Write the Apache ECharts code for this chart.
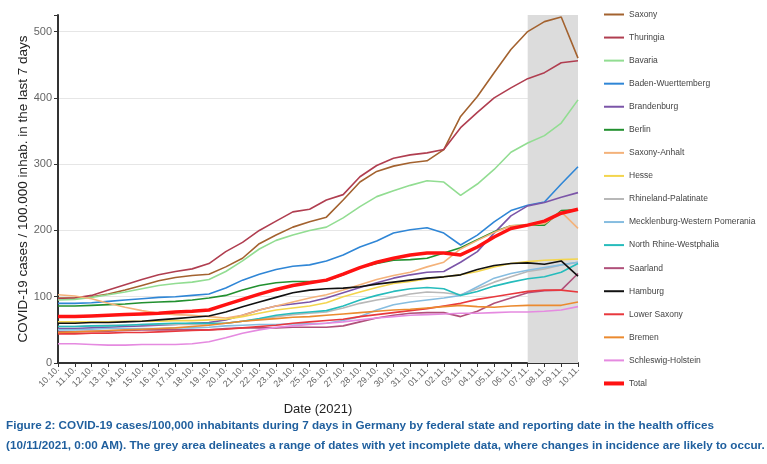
<!DOCTYPE html>
<html>
<head>
<meta charset="utf-8">
<script src="https://cdn.jsdelivr.net/npm/echarts@6/dist/echarts.min.js"></script>
<style>
  html, body { margin: 0; padding: 0; background: #ffffff; }
  #chart { width: 767px; height: 464px; }
</style>
</head>
<body>
<div id="chart"></div>
<script>
// dates 10.10. - 10.11.2021
const dates = ['10.10.', '11.10.', '12.10.', '13.10.', '14.10.', '15.10.', '16.10.', '17.10.', '18.10.', '19.10.',
  '20.10.', '21.10.', '22.10.', '23.10.', '24.10.', '25.10.', '26.10.', '27.10.', '28.10.', '29.10.', '30.10.',
  '31.10.', '01.11.', '02.11.', '03.11.', '04.11.', '05.11.', '06.11.', '07.11.', '08.11.', '09.11.', '10.11.'];

const yTicks = [0, 100, 200, 300, 400, 500];

const saxony = [98, 98, 100, 104, 110, 117, 124, 129, 132, 134, 145, 158, 180, 193, 205, 213, 220, 246, 273, 289, 297, 302, 305, 322, 372, 402, 438, 473, 500, 515, 522, 460];
const thuringia = [97, 98, 102, 110, 118, 126, 133, 138, 142, 150, 168, 182, 200, 214, 228, 232, 246, 254, 281, 298, 309, 314, 317, 322, 355, 378, 400, 415, 429, 438, 453, 456];
const bavaria = [95, 96, 99, 103, 107, 112, 117, 120, 122, 126, 138, 154, 172, 185, 193, 200, 205, 219, 236, 251, 260, 268, 275, 273, 253, 270, 292, 318, 332, 343, 362, 397];
const badenW = [90, 90, 91, 93, 95, 97, 99, 100, 102, 104, 113, 125, 134, 141, 146, 148, 154, 163, 175, 184, 196, 201, 204, 196, 178, 193, 213, 230, 238, 243, 270, 296];
const brandenburg = [52, 52, 53, 54, 55, 56, 57, 58, 60, 61, 65, 72, 80, 86, 89, 92, 98, 106, 114, 121, 128, 133, 137, 138, 152, 168, 196, 222, 237, 242, 250, 257];
const berlin = [86, 86, 87, 88, 89, 91, 92, 93, 95, 98, 102, 110, 117, 121, 123, 123, 124, 133, 144, 150, 155, 156, 158, 166, 174, 186, 198, 207, 208, 208, 230, 231];
const saxonyAnhalt = [103, 101, 97, 90, 84, 79, 75, 73, 72, 70, 68, 72, 80, 86, 92, 98, 103, 110, 118, 126, 132, 137, 145, 152, 172, 185, 197, 207, 208, 210, 228, 203];
const hesse = [62, 62, 62, 62, 63, 63, 63, 64, 64, 65, 66, 70, 75, 80, 83, 86, 91, 100, 107, 114, 120, 123, 127, 130, 133, 138, 145, 150, 153, 155, 156, 157];
const rhinelandP = [55, 55, 56, 57, 57, 58, 58, 58, 58, 58, 60, 63, 66, 70, 73, 75, 77, 83, 90, 95, 99, 104, 107, 106, 103, 112, 122, 130, 138, 142, 148, 152];
const mecklenburgWP = [50, 50, 51, 52, 52, 52, 52, 53, 53, 54, 56, 57, 58, 58, 59, 59, 60, 64, 70, 80, 88, 92, 95, 98, 102, 115, 128, 135, 140, 144, 148, 152];
const nrw = [55, 55, 56, 56, 57, 58, 59, 60, 60, 60, 60, 63, 67, 72, 75, 77, 79, 86, 95, 102, 108, 112, 114, 112, 102, 108, 116, 122, 127, 130, 137, 150];
const saarland = [47, 47, 48, 48, 49, 50, 50, 50, 50, 50, 52, 53, 53, 53, 54, 54, 54, 56, 62, 68, 72, 75, 76, 76, 70, 78, 90, 98, 106, 109, 110, 135];
const hamburg = [60, 60, 61, 61, 62, 63, 65, 67, 69, 71, 77, 85, 92, 99, 106, 110, 112, 113, 115, 119, 122, 125, 128, 130, 133, 141, 147, 150, 151, 149, 154, 131];
const lowerSaxony = [44, 44, 45, 45, 46, 46, 47, 48, 49, 50, 51, 53, 55, 57, 60, 62, 64, 66, 70, 73, 76, 79, 82, 86, 90, 96, 100, 104, 108, 110, 110, 107];
const bremen = [46, 47, 48, 49, 50, 51, 52, 53, 55, 57, 60, 63, 65, 67, 69, 70, 72, 74, 76, 78, 80, 81, 83, 85, 87, 85, 84, 86, 87, 87, 87, 92];
const schleswigH = [29, 29, 28, 27, 27, 28, 28, 28, 29, 32, 38, 45, 50, 54, 56, 58, 60, 62, 65, 68, 70, 72, 73, 74, 75, 75, 76, 77, 77, 78, 80, 85];
const total = [70, 70, 71, 72, 73, 74, 75, 77, 78, 80, 88, 96, 104, 111, 117, 121, 125, 134, 144, 152, 158, 163, 166, 166, 163, 175, 190, 203, 208, 214, 226, 232];

// incomplete data range
const greyStart = '07.11.';
const greyEnd = '10.11.';

const states = [
  { name: 'Saxony', data: saxony, color: '#a3622f' },
  { name: 'Thuringia', data: thuringia, color: '#b03e50' },
  { name: 'Bavaria', data: bavaria, color: '#92dd92' },
  { name: 'Baden-Wuerttemberg', data: badenW, color: '#2f86d6' },
  { name: 'Brandenburg', data: brandenburg, color: '#7b55a8' },
  { name: 'Berlin', data: berlin, color: '#22902f' },
  { name: 'Saxony-Anhalt', data: saxonyAnhalt, color: '#f4b27a' },
  { name: 'Hesse', data: hesse, color: '#f3d54e' },
  { name: 'Rhineland-Palatinate', data: rhinelandP, color: '#b8b8b8' },
  { name: 'Mecklenburg-Western Pomerania', data: mecklenburgWP, color: '#86bde0' },
  { name: 'North Rhine-Westphalia', data: nrw, color: '#26bcbc' },
  { name: 'Saarland', data: saarland, color: '#b0507a' },
  { name: 'Hamburg', data: hamburg, color: '#111111' },
  { name: 'Lower Saxony', data: lowerSaxony, color: '#e8383d' },
  { name: 'Bremen', data: bremen, color: '#eb8a2f' },
  { name: 'Schleswig-Holstein', data: schleswigH, color: '#e58ae0' },
  { name: 'Total', data: total, color: '#ff1212', width: 3.5 }
];

// legend icons: plain line, thicker for Total
const thinIcon = 'path://M0,0h20v2h-20z';
const thickIcon = 'path://M0,0h20v4h-20z';

const chart = echarts.init(document.getElementById('chart'));

const series = [{
  // only holds the grey area
  name: 'grey',
  type: 'line',
  data: [],
  z: 0,
  silent: true,
  markArea: {
    silent: true,
    itemStyle: { color: '#dcdcdc' },
    data: [[{ xAxis: greyStart }, { xAxis: greyEnd }]]
  }
}];
states.forEach(function (s) {
  series.push({
    name: s.name,
    type: 'line',
    data: s.data,
    symbol: 'none',
    z: 3,
    lineStyle: { color: s.color, width: s.width || 1.6 },
    itemStyle: { color: s.color }
  });
});

const captionStyle = { color: '#1f5f9e', fontSize: 11.7, fontWeight: 'bold', fontFamily: 'Liberation Sans' };

const option = {
  backgroundColor: '#ffffff',
  animation: false,
  title: [{
    text: 'Figure 2: COVID-19 cases/100,000 inhabitants during 7 days in Germany by federal state and reporting date in the health offices',
    left: 1, top: 415,
    textStyle: captionStyle
  }, {
    text: '(10/11/2021, 0:00 AM). The grey area delineates a range of dates with yet incomplete data, where changes in incidence are likely to occur.',
    left: 1, top: 435,
    textStyle: captionStyle
  }],
  legend: {
    orient: 'vertical',
    left: 599,
    top: 5,
    itemWidth: 20,
    itemHeight: 14,
    itemGap: 14.06,
    symbolKeepAspect: true,
    data: states.map(function (s) {
      return { name: s.name, icon: s.width ? thickIcon : thinIcon };
    }),
    textStyle: { fontSize: 8.5, color: '#444', fontFamily: 'Liberation Sans' }
  },
  grid: { left: 58, right: 189, top: 15, bottom: 101 },
  xAxis: {
    type: 'category',
    data: dates,
    boundaryGap: false,
    name: 'Date (2021)',
    nameLocation: 'middle',
    nameGap: 40,
    nameTextStyle: { fontSize: 13, color: '#222', fontFamily: 'Liberation Sans' },
    axisLine: { lineStyle: { color: '#333', width: 2 } },
    axisTick: { show: true, length: 4, alignWithLabel: true, lineStyle: { color: '#333' } },
    axisLabel: { rotate: 45, fontSize: 9, color: '#666', interval: 0, margin: 5, fontFamily: 'Liberation Sans' },
    splitLine: { show: false }
  },
  yAxis: {
    type: 'value',
    min: yTicks[0],
    max: 525,
    interval: 100,
    name: 'COVID-19 cases / 100.000 inhab. in the last 7 days',
    nameLocation: 'middle',
    nameGap: 28,
    nameMoveOverlap: false,
    nameTextStyle: { fontSize: 13.5, color: '#222', fontFamily: 'Liberation Sans' },
    axisLine: { show: true, lineStyle: { color: '#333', width: 2 } },
    axisTick: { show: true, length: 4, lineStyle: { color: '#333' } },
    axisLabel: {
      fontSize: 11, color: '#666', margin: 6, fontFamily: 'Liberation Sans',
      formatter: function (v) { return yTicks.indexOf(v) >= 0 ? v : ''; }
    },
    splitLine: {
      show: true,
      lineStyle: { color: ['#e6e6e6', '#e6e6e6', '#e6e6e6', '#e6e6e6', '#e6e6e6', '#e6e6e6', 'rgba(0,0,0,0)'], width: 1 }
    }
  },
  series: series
};

chart.setOption(option);
</script>
</body>
</html>
